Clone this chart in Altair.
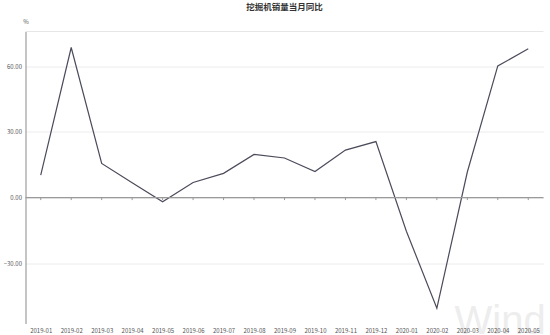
import altair as alt
import pandas as pd

months = ["2019-01", "2019-02", "2019-03", "2019-04", "2019-05", "2019-06",
          "2019-07", "2019-08", "2019-09", "2019-10", "2019-11", "2019-12",
          "2020-01", "2020-02", "2020-03", "2020-04", "2020-05"]
yoy = [10.3, 68.5, 15.6, 6.8, -1.9, 6.9, 11.1, 19.7, 18.1, 11.9, 21.7, 25.6,
       -15.3, -50.4, 11.7, 60.1, 67.9]
y_ticks = [-30, 0, 30, 60]
title_text = "挖掘机销量当月同比"
unit_text = "%"
watermark = "Wind"

df = pd.DataFrame({"month": months, "yoy": yoy})
FONT = "Noto Sans CJK SC"

x_enc = alt.X("month:O", sort=months, title=None,
              scale=alt.Scale(type="point", padding=0.5),
              axis=alt.Axis(labelAngle=0, labelFontSize=6, labelColor="#555555",
                            labelFont=FONT, domain=False, ticks=False,
                            labelPadding=4, zindex=2))
y_scale = alt.Scale(domain=[-57.4, 75.8], nice=False, zero=False)

base = alt.Chart(df)

mark_wm = base.mark_text(fontSize=40, font="Liberation Sans", color="#ededed",
                         align="left", baseline="alphabetic").encode(
    x=alt.value(429), y=alt.value(302), text=alt.value(watermark)
).transform_filter(alt.datum.month == months[0])

top_rule = base.mark_rule(color="#e6e6e6", strokeWidth=1).encode(
    y=alt.value(0)
).transform_filter(alt.datum.month == months[0])

zero_rule = base.mark_rule(color="#9a9a9a", strokeWidth=1.2).encode(
    y=alt.datum(0)
).transform_filter(alt.datum.month == months[0])

tick_rules = base.mark_rule(color="#9a9a9a", strokeWidth=1).encode(
    x=x_enc, y=alt.datum(0), y2=alt.datum(-1.1)
)

line = base.mark_line(color="#4b4b5c", strokeWidth=1.2).encode(
    x=x_enc,
    y=alt.Y("yoy:Q", scale=y_scale,
            axis=alt.Axis(values=y_ticks, format=".2f", labelFontSize=6,
                          labelColor="#555555", labelFont=FONT,
                          domainColor="#8a8a8a", domainWidth=1,
                          ticks=False, labelPadding=4,
                          gridColor="#ececec", gridWidth=1,
                          title=unit_text, titleAngle=0, titleFontSize=6,
                          titleFont=FONT, titleColor="#555555",
                          titleFontWeight="normal", titleX=0, titleY=-10,
                          titleAlign="center", titleBaseline="middle")),
)

chart = alt.layer(mark_wm, top_rule, line, zero_rule, tick_rules).properties(
    width=518,
    height=292,
    title=alt.TitleParams(title_text, fontSize=8.5, font=FONT, fontWeight="bold",
                          color="#333333", anchor="middle", offset=7,
                          frame="group"),
    padding={"left": 25.5, "top": 31.5, "right": 6.5, "bottom": 11.5},
    autosize=alt.AutoSizeParams(type="none"),
).configure_view(stroke=None)

chart.save("out.html", embed_options={"renderer": "svg", "actions": False})
